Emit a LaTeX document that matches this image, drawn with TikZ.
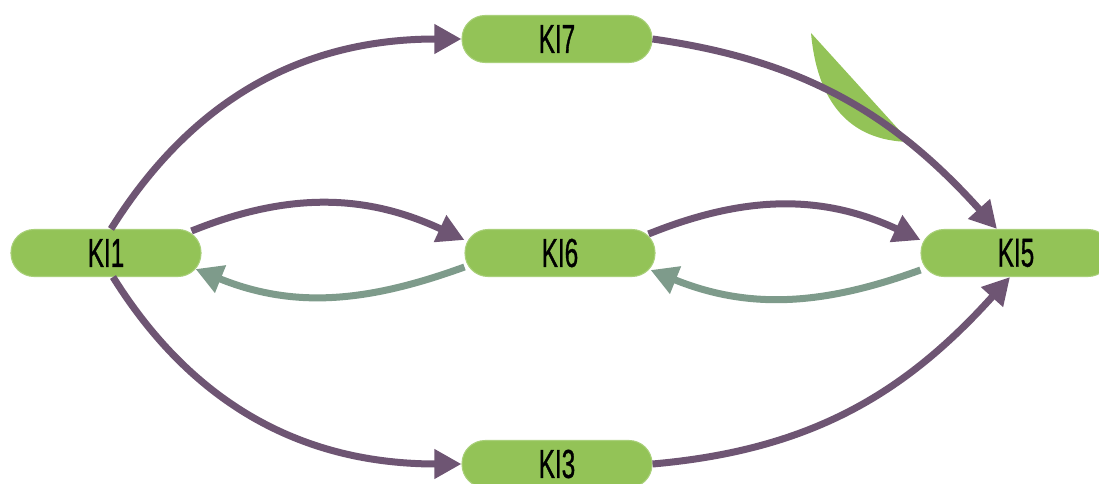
\documentclass[tikz,border=0pt]{standalone}
\usepackage{fontspec}
\newfontfamily\narrowfont[FakeStretch=0.6, FakeBold=0.8]{Liberation Sans}
\usetikzlibrary{arrows.meta}
\definecolor{kigreen}{HTML}{93C357}
\definecolor{kirim}{HTML}{A9D07A}
\definecolor{kipurple}{HTML}{6E5573}
\definecolor{kigrey}{HTML}{7E9B8B}
\begin{document}
\begin{tikzpicture}[
    kibox/.style={rectangle, rounded corners=0.46cm, fill=kigreen, draw=kirim, line width=0.6pt,
        minimum width=3.8cm, minimum height=0.94cm, inner sep=0pt,
        font=\narrowfont\fontsize{23}{23}\selectfont},
    fwd/.style={draw=kipurple, line width=0.14cm, -{Triangle[length=0.54cm, width=0.56cm]}},
    back/.style={draw=kigrey, line width=0.14cm, -{Triangle[length=0.54cm, width=0.56cm]}}
]
\useasboundingbox (0,0) rectangle (21.98,-9.68);
% leaf
\fill[kigreen] (16.22,-0.66) -- (18.2,-2.84) .. controls (16.95,-2.82) and (16.34,-2.0) .. (16.22,-0.66);

% nodes
\node[kibox] (ki1) at (2.12,-5.06) {KI1};
\node[kibox] (ki6) at (11.2,-5.06) {KI6};
\node[kibox] (ki5) at (20.32,-5.06) {KI5};
\node[kibox] (ki7) at (11.14,-0.78) {KI7};
\node[kibox] (ki3) at (11.14,-9.28) {KI3};

% outer paths
\draw[fwd] ([xshift=0.1cm]ki1.north) to[out=58, in=180] (ki7.west);
\draw[fwd] (ki7.east) to[out=-8, in=132] ([xshift=-0.38cm]ki5.north);
\draw[fwd] ([xshift=0.14cm]ki1.south) to[out=-58, in=180] (ki3.west);
\draw[fwd] (ki3.east) to[out=5, in=-132] ([xshift=-0.12cm]ki5.south);

% middle paths
\draw[fwd] ([xshift=-0.2cm,yshift=0.44cm]ki1.east) to[out=22, in=155] ([yshift=0.26cm]ki6.west);
\draw[back] ([yshift=-0.28cm]ki6.west) to[out=-160, in=-22] ([xshift=-0.12cm,yshift=-0.32cm]ki1.east);
\draw[fwd] ([xshift=-0.14cm,yshift=0.38cm]ki6.east) to[out=22, in=155] ([yshift=0.26cm]ki5.west);
\draw[back] ([yshift=-0.34cm]ki5.west) to[out=-160, in=-22] ([xshift=-0.1cm,yshift=-0.34cm]ki6.east);
\end{tikzpicture}
\end{document}
